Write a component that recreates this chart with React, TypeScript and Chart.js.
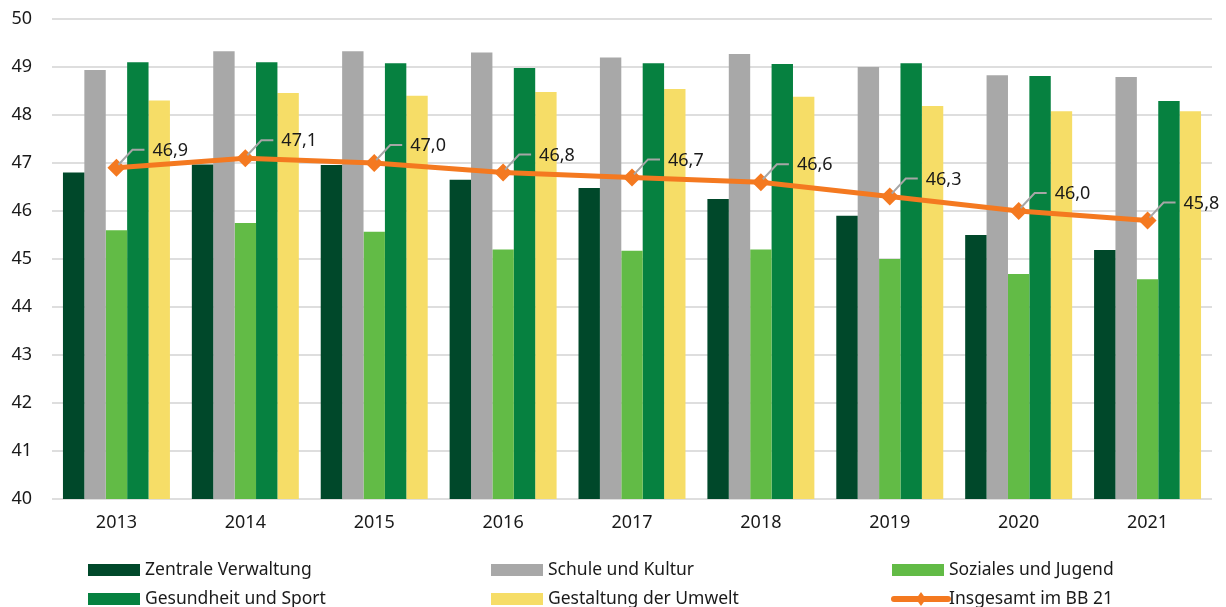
import React, { useEffect, useRef } from "react";
import { Chart, registerables } from "chart.js";

Chart.register(...registerables);

const years = ["2013", "2014", "2015", "2016", "2017", "2018", "2019", "2020", "2021"];
const zentrale = [46.8, 46.97, 46.96, 46.65, 46.48, 46.25, 45.9, 45.5, 45.19];
const schule = [48.94, 49.33, 49.33, 49.3, 49.2, 49.27, 49.0, 48.83, 48.79];
const soziales = [45.6, 45.75, 45.57, 45.2, 45.17, 45.2, 45.0, 44.69, 44.58];
const gesundheit = [49.1, 49.1, 49.08, 48.98, 49.08, 49.06, 49.08, 48.81, 48.29];
const umwelt = [48.3, 48.46, 48.4, 48.48, 48.54, 48.38, 48.19, 48.08, 48.08];
const insgesamt = [46.9, 47.1, 47.0, 46.8, 46.7, 46.6, 46.3, 46.0, 45.8];
const yTicks = [40, 41, 42, 43, 44, 45, 46, 47, 48, 49, 50];

const seriesNames = [
  "Zentrale Verwaltung",
  "Schule und Kultur",
  "Soziales und Jugend",
  "Gesundheit und Sport",
  "Gestaltung der Umwelt",
  "Insgesamt im BB 21",
];
const colors = ["#00482A", "#A8A8A8", "#62BB46", "#068140", "#F6DD67", "#F47920"];

const FONT = "'Noto Sans', 'Open Sans', sans-serif";

const labelPlugin = {
  id: "lineLabels",
  afterDatasetsDraw(chart: any) {
    const ctx = chart.ctx;
    const meta = chart.getDatasetMeta(0);
    ctx.save();
    meta.data.forEach((pt: any, i: number) => {
      const x = pt.x;
      const y = pt.y;
      ctx.strokeStyle = "#A6A6A6";
      ctx.lineWidth = 2;
      ctx.beginPath();
      ctx.moveTo(x + 2, y - 3);
      ctx.lineTo(x + 16, y - 18);
      ctx.lineTo(x + 28, y - 18);
      ctx.stroke();
      ctx.fillStyle = "#1a1a1a";
      ctx.font = `18px ${FONT}`;
      ctx.textAlign = "left";
      ctx.textBaseline = "middle";
      ctx.fillText(insgesamt[i].toFixed(1).replace(".", ","), x + 36, y - 17);
    });
    ctx.restore();
  },
};

const legendPlugin = {
  id: "customLegend",
  afterDraw(chart: any) {
    const ctx = chart.ctx;
    const cols = [88, 491, 892];
    const rows = [570, 599];
    const order = [1, 2, 3, 4, 5, 0];
    ctx.save();
    ctx.font = `17.5px ${FONT}`;
    ctx.textBaseline = "middle";
    ctx.textAlign = "left";
    order.forEach((di, k) => {
      const cx = cols[k % 3];
      const cy = rows[Math.floor(k / 3)];
      const name = seriesNames[di === 0 ? 5 : di - 1];
      const col = colors[di === 0 ? 5 : di - 1];
      if (di === 0) {
        ctx.strokeStyle = col;
        ctx.lineWidth = 6;
        ctx.lineCap = "round";
        ctx.beginPath();
        ctx.moveTo(cx + 2, cy);
        ctx.lineTo(cx + 56, cy);
        ctx.stroke();
        ctx.fillStyle = col;
        ctx.beginPath();
        ctx.moveTo(cx + 29, cy - 7);
        ctx.lineTo(cx + 34, cy);
        ctx.lineTo(cx + 29, cy + 7);
        ctx.lineTo(cx + 24, cy);
        ctx.closePath();
        ctx.fill();
        ctx.fillStyle = "#1a1a1a";
        ctx.fillText(name, cx + 57, cy);
      } else {
        ctx.fillStyle = col;
        ctx.fillRect(cx, cy - 6, 52, 12);
        ctx.fillStyle = "#1a1a1a";
        ctx.fillText(name, cx + 57, cy);
      }
    });
    ctx.restore();
  },
};

export default function App() {
  const ref = useRef<HTMLCanvasElement | null>(null);
  useEffect(() => {
    if (!ref.current) return;
    const barDs = (label: string, data: number[], color: string) => ({
      type: "bar" as const,
      label,
      data,
      backgroundColor: color,
      borderWidth: 0,
      order: 1,
      categoryPercentage: 0.83,
      barPercentage: 1.0,
    });
    const chart = new Chart(ref.current, {
      type: "bar",
      data: {
        labels: years,
        datasets: [
          {
            type: "line" as const,
            label: seriesNames[5],
            data: insgesamt,
            borderColor: colors[5],
            backgroundColor: colors[5],
            borderWidth: 5,
            pointStyle: "rectRot",
            pointRadius: 9,
            pointBackgroundColor: colors[5],
            pointBorderColor: colors[5],
            pointBorderWidth: 0,
            tension: 0,
            order: 0,
          } as any,
          barDs(seriesNames[0], zentrale, colors[0]),
          barDs(seriesNames[1], schule, colors[1]),
          barDs(seriesNames[2], soziales, colors[2]),
          barDs(seriesNames[3], gesundheit, colors[3]),
          barDs(seriesNames[4], umwelt, colors[4]),
        ],
      },
      options: {
        responsive: false,
        animation: false,
        devicePixelRatio: 1,
        layout: { padding: { top: 19, right: 14, left: 0, bottom: 62 } },
        plugins: {
          legend: { display: false },
          tooltip: { enabled: false },
        },
        scales: {
          x: {
            grid: { display: false, drawTicks: false },
            border: { display: false },
            ticks: {
              color: "#1a1a1a",
              font: { family: FONT, size: 18 },
              padding: 13,
            },
            afterFit(scale: any) {
              scale.height = 46;
            },
          },
          y: {
            min: 40,
            max: 50,
            afterBuildTicks(scale: any) {
              scale.ticks = yTicks.map((v) => ({ value: v }));
            },
            grid: { color: "#DEDEDE", lineWidth: 2, drawTicks: false },
            border: { display: false },
            ticks: {
              color: "#1a1a1a",
              font: { family: FONT, size: 18 },
              padding: 20,
            },
            afterFit(scale: any) {
              scale.width = 52;
              scale.paddingTop = 0;
              scale.paddingBottom = 0;
            },
          },
        },
      },
      plugins: [labelPlugin, legendPlugin],
    });
    return () => chart.destroy();
  }, []);
  return (
    <div style={{ position: "fixed", left: 0, top: 0, width: 1226, height: 607, background: "#fff" }}>
      <canvas ref={ref} width={1226} height={607} style={{ display: "block" }} />
    </div>
  );
}
